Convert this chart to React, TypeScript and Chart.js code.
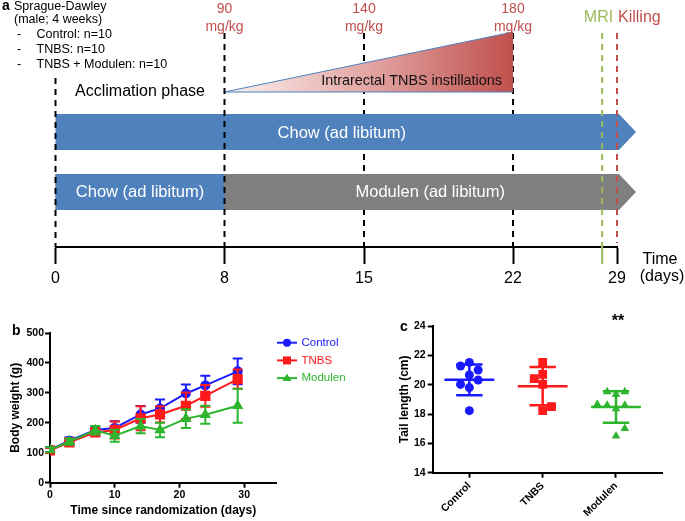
import React, { useEffect, useRef } from 'react';
import { Chart, registerables } from 'chart.js';

Chart.register(...registerables);

const FONT = '"Liberation Sans", Arial, Helvetica, sans-serif';

// ---------- Panel a (study design) ----------
const timelineDays = [0, 8, 15, 22, 29];
const doseDays = [8, 15, 22];
const doseLabels = ['90', '140', '180'];
const mriDay = 28;
const killDay = 29;
const groupLines = ['Control: n=10', 'TNBS: n=10', 'TNBS + Modulen: n=10'];
// schematic (non-proportional) spacing of the timeline ticks
const TICK_UNITS = [0, 169, 308.5, 457.5, 561.5];

// ---------- Panel b (body weight) ----------
const bDays = [0, 3, 7, 10, 14, 17, 21, 24, 29];
const controlWeight = [110, 140, 176, 183, 228, 248, 298, 325, 372];
const controlSD = [8, 11, 12, 22, 28, 30, 30, 32, 43];
const tnbsWeight = [108, 135, 168, 176, 215, 228, 257, 290, 346];
const tnbsSD = [8, 10, 10, 28, 40, 27, 44, 36, 32];
const modulenWeight = [110, 137, 175, 157, 189, 176, 214, 227, 257];
const modulenSD = [8, 10, 14, 20, 24, 24, 31, 30, 57];
const bXTicks = [0, 10, 20, 30];
const bYTicks = [0, 100, 200, 300, 400, 500];

// ---------- Panel c (tail length) ----------
const cGroups = ['Control', 'TNBS', 'Modulen'];
const controlTail = [21.27, 21.52, 21.0, 20.66, 20.02, 20.32, 19.8, 18.23];
const tnbsTail = [21.52, 20.7, 20.41, 20.02, 18.5, 18.23];
const modulenTail = [19.52, 19.52, 19.34, 18.66, 18.59, 18.59, 18.36, 17.02, 16.5];
const tailMean = [20.33, 19.9, 18.48];
const tailSD = [1.05, 1.3, 1.08];
const cYTicks = [14, 16, 18, 20, 22, 24];
// horizontal scatter of the dots (layout only)
const controlJitter = [-0.12, 0, 0.12, 0, -0.12, 0.12, 0, 0];
const tnbsJitter = [0, 0, -0.115, 0, 0.12, 0];
const modulenJitter = [-0.12, 0.12, 0, -0.255, -0.12, 0.12, 0, 0.12, 0];

const BLUE = '#1a1aff';
const RED = '#ff1a1a';
const GREEN = '#2db52d';

function dayToUnit(d: number) {
  for (let i = 0; i < timelineDays.length - 1; i++) {
    const a = timelineDays[i];
    const b = timelineDays[i + 1];
    if (d <= b) return TICK_UNITS[i] + ((d - a) / (b - a)) * (TICK_UNITS[i + 1] - TICK_UNITS[i]);
  }
  return TICK_UNITS[TICK_UNITS.length - 1];
}

function txt(ctx: CanvasRenderingContext2D, s: string, x: number, y: number, size: number, color: string, align: CanvasTextAlign = 'left', weight = 'normal') {
  ctx.save();
  ctx.font = `${weight} ${size}px ${FONT}`;
  ctx.fillStyle = color;
  ctx.textAlign = align;
  ctx.textBaseline = 'middle';
  ctx.fillText(s, x, y);
  ctx.restore();
}

const panelAPlugin = {
  id: 'panelA',
  afterDraw(chart: any) {
    const ctx: CanvasRenderingContext2D = chart.ctx;
    const xs = chart.scales.x;
    const X = (d: number) => xs.getPixelForValue(dayToUnit(d));
    const axisY = chart.chartArea.bottom;
    const DOSE_RED = '#c0504d';
    const MRI_GREEN = '#9bbb59';

    const dashed = (x: number, y0: number, y1: number, color: string) => {
      ctx.save();
      ctx.strokeStyle = color;
      ctx.lineWidth = 2;
      ctx.setLineDash([6, 5]);
      ctx.beginPath();
      ctx.moveTo(x, y0);
      ctx.lineTo(x, y1);
      ctx.stroke();
      ctx.restore();
    };

    // header text
    txt(ctx, 'a', 2, 6, 14, '#000', 'left', 'bold');
    txt(ctx, 'Sprague-Dawley', 14, 7, 12.5, '#000');
    txt(ctx, '(male; 4 weeks)', 14, 20, 12.5, '#000');
    groupLines.forEach((g, i) => {
      const y = 34.5 + i * 14.8;
      txt(ctx, '-', 17, y, 12.5, '#000');
      txt(ctx, g, 36.5, y, 12.5, '#000');
    });

    // background dashed lines (hidden under arrows)
    dashed(X(15), 33, axisY, '#000');
    dashed(X(22), 33, axisY, '#000');

    // triangle (TNBS dose escalation)
    const tx0 = X(doseDays[0]);
    const tx1 = X(doseDays[doseDays.length - 1]);
    const grad = ctx.createLinearGradient(tx0, 0, tx1, 0);
    grad.addColorStop(0, '#fdf3f3');
    grad.addColorStop(0.5, '#e2a5a3');
    grad.addColorStop(1, '#c0504d');
    ctx.save();
    ctx.beginPath();
    ctx.moveTo(tx0, 92);
    ctx.lineTo(tx1, 32);
    ctx.lineTo(tx1, 92);
    ctx.closePath();
    ctx.fillStyle = grad;
    ctx.fill();
    ctx.strokeStyle = '#4f81bd';
    ctx.lineWidth = 1;
    ctx.beginPath();
    ctx.moveTo(tx1, 92);
    ctx.lineTo(tx0, 92);
    ctx.lineTo(tx1, 32);
    ctx.stroke();
    ctx.restore();
    txt(ctx, 'Intrarectal TNBS instillations', tx1 - 11, 81, 14.4, '#111', 'right');

    // dose labels
    doseDays.forEach((d, i) => {
      txt(ctx, doseLabels[i], X(d), 9, 14, DOSE_RED, 'center');
      txt(ctx, 'mg/kg', X(d), 27, 14, DOSE_RED, 'center');
    });

    txt(ctx, 'Acclimation phase', (X(0) + X(8)) / 2, 92, 16, '#000', 'center');

    // arrows
    const x0 = X(0);
    const xEnd = X(killDay) + 2;
    const xTip = X(killDay) + 19;
    const arrow = (y0: number, y1: number) => {
      ctx.beginPath();
      ctx.moveTo(x0, y0);
      ctx.lineTo(xEnd, y0);
      ctx.lineTo(xTip, (y0 + y1) / 2);
      ctx.lineTo(xEnd, y1);
      ctx.lineTo(x0, y1);
      ctx.closePath();
    };
    ctx.save();
    ctx.fillStyle = '#4f81bd';
    arrow(114, 150);
    ctx.fill();
    ctx.fillStyle = '#7f7f7f';
    arrow(174, 210);
    ctx.fill();
    ctx.fillStyle = '#4f81bd';
    ctx.fillRect(x0, 174, X(8) - x0, 36);
    ctx.restore();
    txt(ctx, 'Chow (ad libitum)', (x0 + xEnd + 9) / 2, 133, 16.5, '#fff', 'center');
    txt(ctx, 'Chow (ad libitum)', (x0 + X(8)) / 2, 192, 16.5, '#fff', 'center');
    txt(ctx, 'Modulen (ad libitum)', (X(8) + xTip) / 2, 192, 16.5, '#fff', 'center');

    // foreground dashed lines
    dashed(X(0), 78, axisY, '#000');
    dashed(X(8), 33, axisY, '#000');
    dashed(X(mriDay), 33, axisY, MRI_GREEN);
    dashed(X(killDay), 33, axisY - 4, DOSE_RED);
    ctx.save();
    ctx.strokeStyle = MRI_GREEN;
    ctx.lineWidth = 2;
    ctx.beginPath();
    ctx.moveTo(X(mriDay), axisY);
    ctx.lineTo(X(mriDay), axisY + 17);
    ctx.stroke();
    ctx.restore();

    txt(ctx, 'MRI', X(mriDay) + 11, 18, 16, MRI_GREEN, 'right');
    txt(ctx, 'Killing', X(killDay) + 1, 18, 16, DOSE_RED, 'left');

    txt(ctx, 'Time', 660, 260, 16, '#000', 'center');
    txt(ctx, '(days)', 662, 277, 16, '#000', 'center');
  },
};

const bSeries = [
  { label: 'Control', values: controlWeight, sd: controlSD, color: BLUE, style: 'circle' },
  { label: 'TNBS', values: tnbsWeight, sd: tnbsSD, color: RED, style: 'rect' },
  { label: 'Modulen', values: modulenWeight, sd: modulenSD, color: GREEN, style: 'triangle' },
];

function drawMarker(ctx: CanvasRenderingContext2D, style: string, x: number, y: number, color: string) {
  ctx.save();
  ctx.fillStyle = color;
  ctx.beginPath();
  if (style === 'circle') ctx.arc(x, y, 4, 0, Math.PI * 2);
  else if (style === 'rect') ctx.rect(x - 4, y - 4, 8, 8);
  else {
    ctx.moveTo(x, y - 4.5);
    ctx.lineTo(x + 4.5, y + 3);
    ctx.lineTo(x - 4.5, y + 3);
    ctx.closePath();
  }
  ctx.fill();
  ctx.restore();
}

const panelBPlugin = {
  id: 'panelB',
  beforeDatasetDraw(chart: any, args: any) {
    const ctx: CanvasRenderingContext2D = chart.ctx;
    const ys = chart.scales.y;
    const s = bSeries[args.index];
    ctx.save();
    ctx.strokeStyle = s.color;
    ctx.lineWidth = 2;
    args.meta.data.forEach((pt: any, i: number) => {
      const yt = ys.getPixelForValue(s.values[i] + s.sd[i]);
      const yb = ys.getPixelForValue(s.values[i] - s.sd[i]);
      ctx.beginPath();
      ctx.moveTo(pt.x, yt);
      ctx.lineTo(pt.x, yb);
      ctx.moveTo(pt.x - 5, yt);
      ctx.lineTo(pt.x + 5, yt);
      ctx.moveTo(pt.x - 5, yb);
      ctx.lineTo(pt.x + 5, yb);
      ctx.stroke();
    });
    ctx.restore();
  },
  afterDraw(chart: any) {
    const ctx: CanvasRenderingContext2D = chart.ctx;
    txt(ctx, 'b', 12, 31, 14, '#000', 'left', 'bold');
    bSeries.forEach((s, i) => {
      const y = 42.7 + i * 17.7;
      ctx.save();
      ctx.strokeStyle = s.color;
      ctx.lineWidth = 2;
      ctx.beginPath();
      ctx.moveTo(277, y);
      ctx.lineTo(297, y);
      ctx.stroke();
      ctx.restore();
      drawMarker(ctx, s.style, 287, y, s.color);
      txt(ctx, s.label, 301.5, y, 11.5, s.color);
    });
  },
};

const cSeries = [
  { values: controlTail, jitter: controlJitter, color: BLUE, style: 'circle', radius: 4.5 },
  { values: tnbsTail, jitter: tnbsJitter, color: RED, style: 'rect', radius: 6.2 },
  { values: modulenTail, jitter: modulenJitter, color: GREEN, style: 'triangle', radius: 5 },
];

const panelCPlugin = {
  id: 'panelC',
  beforeDatasetsDraw(chart: any) {
    const ctx: CanvasRenderingContext2D = chart.ctx;
    const xs = chart.scales.x;
    const ys = chart.scales.y;
    ctx.save();
    ctx.lineWidth = 2.5;
    cSeries.forEach((s, i) => {
      ctx.strokeStyle = s.color;
      const xc = xs.getPixelForValue(i);
      const ym = ys.getPixelForValue(tailMean[i]);
      const yt = ys.getPixelForValue(tailMean[i] + tailSD[i]);
      const yb = ys.getPixelForValue(tailMean[i] - tailSD[i]);
      const xl = xs.getPixelForValue(i - 0.34);
      const xr = xs.getPixelForValue(i + 0.34);
      const cl = xs.getPixelForValue(i - 0.18);
      const cr = xs.getPixelForValue(i + 0.18);
      ctx.beginPath();
      ctx.moveTo(xl, ym);
      ctx.lineTo(xr, ym);
      ctx.moveTo(xc, yt);
      ctx.lineTo(xc, yb);
      ctx.moveTo(cl, yt);
      ctx.lineTo(cr, yt);
      ctx.moveTo(cl, yb);
      ctx.lineTo(cr, yb);
      ctx.stroke();
    });
    ctx.restore();
  },
  afterDraw(chart: any) {
    const ctx: CanvasRenderingContext2D = chart.ctx;
    const xs = chart.scales.x;
    txt(ctx, 'c', 40, 27, 14, '#000', 'left', 'bold');
    txt(ctx, '**', xs.getPixelForValue(2) + 2, 22, 16, '#000', 'center', 'bold');
  },
};

const axisCommon = {
  border: { display: true, color: '#000', width: 2 },
  grid: { display: true, drawOnChartArea: false, drawTicks: true, tickLength: 5, tickWidth: 2, tickColor: '#000' },
};

export default function App() {
  const aRef = useRef<HTMLCanvasElement>(null);
  const bRef = useRef<HTMLCanvasElement>(null);
  const cRef = useRef<HTMLCanvasElement>(null);

  useEffect(() => {
    const charts: Chart[] = [];

    charts.push(
      new Chart(aRef.current as HTMLCanvasElement, {
        type: 'scatter',
        data: { datasets: [{ data: [] }] },
        options: {
          animation: false,
          responsive: false,
          layout: { padding: { left: 55.5, right: 68, top: 0, bottom: 0 } },
          plugins: { legend: { display: false }, tooltip: { enabled: false } },
          scales: {
            x: {
              type: 'linear',
              min: 0,
              max: TICK_UNITS[TICK_UNITS.length - 1],
              afterBuildTicks: (s: any) => {
                s.ticks = TICK_UNITS.map((v) => ({ value: v }));
              },
              afterFit: (s: any) => {
                s.height = 53;
              },
              border: { display: true, color: '#000', width: 2 },
              grid: { display: true, drawOnChartArea: false, drawTicks: true, tickLength: 17, tickWidth: 2, tickColor: '#000' },
              ticks: {
                autoSkip: false,
                maxRotation: 0,
                padding: 5,
                color: '#000',
                font: { family: FONT, size: 16 },
                callback: (_v: any, i: number) => String(timelineDays[i]),
              },
            },
            y: { display: false, min: 0, max: 1 },
          },
        } as any,
        plugins: [panelAPlugin],
      })
    );

    charts.push(
      new Chart(bRef.current as HTMLCanvasElement, {
        type: 'line',
        data: {
          datasets: bSeries.map((s, k) => ({
            label: s.label,
            data: bDays.map((d, i) => ({ x: d, y: s.values[i] })),
            borderColor: s.color,
            backgroundColor: s.color,
            pointBackgroundColor: s.color,
            pointBorderColor: s.color,
            pointStyle: s.style,
            pointRadius: s.style === 'circle' ? 4 : s.style === 'rect' ? 5.8 : 4.6,
            borderWidth: 2,
            tension: 0,
            order: 3 - k,
          })),
        },
        options: {
          animation: false,
          responsive: false,
          layout: { padding: { left: 0, right: 83.5, top: 33, bottom: 0 } },
          plugins: { legend: { display: false }, tooltip: { enabled: false } },
          scales: {
            x: {
              type: 'linear',
              min: 0,
              max: 35,
              afterBuildTicks: (s: any) => {
                s.ticks = bXTicks.map((v) => ({ value: v }));
              },
              afterFit: (s: any) => {
                s.height = 38.3;
              },
              ...axisCommon,
              ticks: { color: '#000', padding: 1, maxRotation: 0, font: { family: FONT, size: 10.5, weight: 'bold' } },
              title: {
                display: true,
                text: 'Time since randomization (days)',
                color: '#000',
                font: { family: FONT, size: 12, weight: 'bold' },
                padding: { top: 0, bottom: 3 },
              },
            },
            y: {
              min: 0,
              max: 500,
              afterBuildTicks: (s: any) => {
                s.ticks = bYTicks.map((v) => ({ value: v }));
              },
              afterFit: (s: any) => {
                s.width = 50;
              },
              ...axisCommon,
              ticks: { color: '#000', padding: 1, font: { family: FONT, size: 10.5, weight: 'bold' } },
              title: {
                display: true,
                text: 'Body weight (g)',
                color: '#000',
                font: { family: FONT, size: 12, weight: 'bold' },
                padding: { top: 8.8, bottom: 0 },
              },
            },
          },
        } as any,
        plugins: [panelBPlugin],
      })
    );

    charts.push(
      new Chart(cRef.current as HTMLCanvasElement, {
        type: 'scatter',
        data: {
          datasets: cSeries.map((s, k) => ({
            label: cGroups[k],
            data: s.values.map((v, i) => ({ x: k + s.jitter[i], y: v })),
            backgroundColor: s.color,
            borderColor: s.color,
            pointStyle: s.style,
            pointRadius: s.radius,
            borderWidth: 0,
          })),
        },
        options: {
          animation: false,
          responsive: false,
          layout: { padding: { left: 0, right: 22.3, top: 26, bottom: 0 } },
          plugins: { legend: { display: false }, tooltip: { enabled: false } },
          scales: {
            x: {
              type: 'linear',
              min: -0.5,
              max: 2.637,
              afterBuildTicks: (s: any) => {
                s.ticks = cGroups.map((_g, i) => ({ value: i }));
              },
              afterFit: (s: any) => {
                s.height = 48.3;
              },
              ...axisCommon,
              ticks: {
                color: '#000',
                padding: 2,
                autoSkip: false,
                minRotation: 45,
                maxRotation: 45,
                font: { family: FONT, size: 10.5, weight: 'bold' },
                callback: (_v: any, i: number) => cGroups[i],
              },
            },
            y: {
              min: 14,
              max: 24,
              afterBuildTicks: (s: any) => {
                s.ticks = cYTicks.map((v) => ({ value: v }));
              },
              afterFit: (s: any) => {
                s.width = 72.7;
              },
              ...axisCommon,
              ticks: { color: '#000', padding: 2, font: { family: FONT, size: 10.5, weight: 'bold' } },
              title: {
                display: true,
                text: 'Tail length (cm)',
                color: '#000',
                font: { family: FONT, size: 12, weight: 'bold' },
                padding: { top: 37.8, bottom: 0 },
              },
            },
          },
        } as any,
        plugins: [panelCPlugin],
      })
    );

    return () => charts.forEach((c) => c.destroy());
  }, []);

  return (
    <div style={{ position: 'absolute', left: 0, top: 0, width: 685, height: 521, background: '#fff', overflow: 'hidden' }}>
      <canvas ref={aRef} width={685} height={300} style={{ position: 'absolute', left: 0, top: 0, width: 685, height: 300 }} />
      <canvas ref={bRef} width={360} height={221} style={{ position: 'absolute', left: 0, top: 300, width: 360, height: 221 }} />
      <canvas ref={cRef} width={325} height={221} style={{ position: 'absolute', left: 360, top: 300, width: 325, height: 221 }} />
    </div>
  );
}
